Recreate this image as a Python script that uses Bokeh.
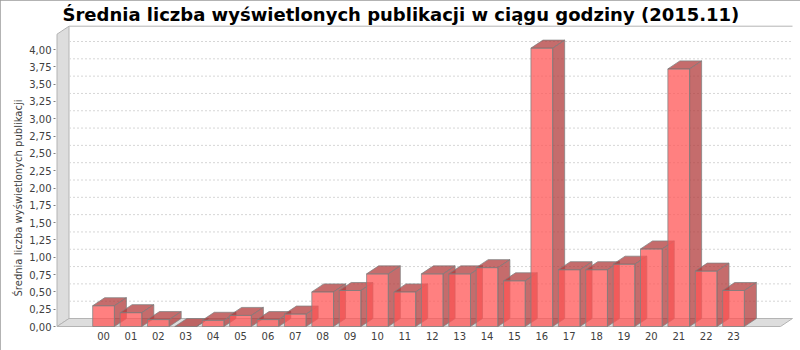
import math
from bokeh.plotting import figure
from bokeh.models import Range1d, FixedTicker, CustomJSTickFormatter, Title, ColumnDataSource
from bokeh.embed import file_html
from bokeh.resources import INLINE

# ---------------- data ----------------
title_text = "Średnia liczba wyświetlonych publikacji w ciągu godziny (2015.11)"
y_label_text = "Średnia liczba wyświetlonych publikacji"
hours = ["00", "01", "02", "03", "04", "05", "06", "07", "08", "09", "10", "11",
         "12", "13", "14", "15", "16", "17", "18", "19", "20", "21", "22", "23"]
values = [0.30, 0.20, 0.10, 0.00, 0.09, 0.16, 0.10, 0.18, 0.50, 0.52, 0.76, 0.50,
          0.76, 0.76, 0.85, 0.66, 4.02, 0.82, 0.82, 0.90, 1.12, 3.72, 0.80, 0.52]
y_ticks = [0.0, 0.25, 0.5, 0.75, 1.0, 1.25, 1.5, 1.75, 2.0, 2.25, 2.5, 2.75,
           3.0, 3.25, 3.5, 3.75, 4.0]

# ---------------- layout geometry (pixels) ----------------
W, H = 800, 350
FRAME_L, FRAME_R, FRAME_T, FRAME_B = 55, 794, 24, 327
CAT0_PX = 103.06        # centre of first category (front)
CAT_STEP = 27.39        # px per category
ZERO_PX = 326           # pixel row of value 0 (front)
PX_PER_UNIT = 69.25
DEPTH_X, DEPTH_Y = 12, 8
FRONT_L_PX, FRONT_R_PX = 56, 780
BAR_W_PX = 21.72

x_start = (FRAME_L - CAT0_PX) / CAT_STEP
x_end = (FRAME_R - CAT0_PX) / CAT_STEP
y_start = -(FRAME_B - ZERO_PX) / PX_PER_UNIT
y_end = (ZERO_PX - FRAME_T) / PX_PER_UNIT
dx = DEPTH_X / CAT_STEP
dy = DEPTH_Y / PX_PER_UNIT
hw = BAR_W_PX / 2 / CAT_STEP
xl = (FRONT_L_PX + 0.5 - CAT0_PX) / CAT_STEP
xr = (FRONT_R_PX - CAT0_PX) / CAT_STEP
upper = max(values) * 1.05

FONT = "DejaVu Sans"
LABEL_COLOR = "#404040"

p = figure(width=W, height=H, output_backend="svg", toolbar_location=None,
           x_range=Range1d(x_start, x_end), y_range=Range1d(y_start, y_end),
           min_border_left=FRAME_L, min_border_right=W - FRAME_R,
           min_border_top=FRAME_T, min_border_bottom=H - FRAME_B,
           title=title_text)
p.grid.visible = False
p.outline_line_color = None
p.background_fill_color = "white"
p.border_fill_color = "white"
p.styles = {"outline": "1px solid #9a9a9a", "outline-offset": "-1px"}

p.title.text_font = FONT
p.title.text_font_style = "bold"
p.title.text_font_size = "18px"
p.title.text_color = "black"
p.title.align = "left"
p.title.offset = 7
p.title.standoff = 0

# y axis
ya = p.yaxis[0]
ya.ticker = FixedTicker(ticks=y_ticks)
ya.formatter = CustomJSTickFormatter(code="return tick.toFixed(2).replace('.', ',');")
ya.axis_line_color = None
ya.major_tick_in = 0
ya.major_tick_out = 2
ya.major_tick_line_color = "#808080"
ya.minor_tick_line_color = None
ya.major_label_standoff = 2
ya.major_label_text_font = FONT
ya.major_label_text_font_size = "10px"
ya.major_label_text_color = LABEL_COLOR

# y axis title, as a side title (rotated, reading upwards)
p.add_layout(Title(text=y_label_text, align="left", offset=31, standoff=6,
                   vertical_align="bottom", text_font=FONT, text_font_size="10px",
                   text_font_style="normal", text_color=LABEL_COLOR), "left")

# x axis (categories)
xa = p.xaxis[0]
xa.ticker = FixedTicker(ticks=list(range(len(hours))))
xa.formatter = CustomJSTickFormatter(args=dict(labels=hours),
                                     code="return labels[Math.round(tick)];")
xa.axis_line_color = None
xa.major_tick_in = 0
xa.major_tick_out = 0
xa.major_tick_line_color = None
xa.minor_tick_line_color = None
xa.major_label_standoff = 4
xa.major_label_text_font = FONT
xa.major_label_text_font_size = "10px"
xa.major_label_text_color = LABEL_COLOR

# walls (left wall + floor)
wall_xs = [[xl, xl, xl + dx, xl + dx], [xl, xr, xr + dx, xl + dx]]
wall_ys = [[0, upper, upper + dy, dy], [0, 0, dy, dy]]
p.patches(wall_xs, wall_ys, fill_color="#DDDDDD", line_color="#B4B4B4", line_width=1)

# gridlines on back wall
grid_src = ColumnDataSource(dict(
    x0=[xl + dx] * (len(y_ticks) - 1), x1=[xr + dx] * (len(y_ticks) - 1),
    y=[t + dy for t in y_ticks[1:]]))
p.segment(x0="x0", y0="y", x1="x1", y1="y", source=grid_src,
          line_color="#D6D6D6", line_width=1, line_dash="2 2")

# top outline of the plot
p.segment(x0=[xl + dx], y0=[upper + dy], x1=[xr + dx], y1=[upper + dy],
          line_color="#B4B4B4", line_width=1)

# 3D bars
FRONT = "#FF5555"
SIDE = "#B23B3B"
xs, ys, fills = [], [], []
for i, v in enumerate(values):
    x0, x1 = i - hw, i + hw
    xs.append([x0, x1, x1, x0]); ys.append([0, 0, v, v]); fills.append(FRONT)
    xs.append([x1, x1 + dx, x1 + dx, x1]); ys.append([0, dy, v + dy, v]); fills.append(SIDE)
    xs.append([x0, x1, x1 + dx, x0 + dx]); ys.append([v, v, v + dy, v + dy]); fills.append(SIDE)
bar_src = ColumnDataSource(dict(xs=xs, ys=ys, fill=fills))
p.patches("xs", "ys", source=bar_src, fill_color="fill", fill_alpha=0.75,
          line_color="#808080", line_alpha=0.75, line_width=1)

open("out.html", "w").write(file_html(p, INLINE))
